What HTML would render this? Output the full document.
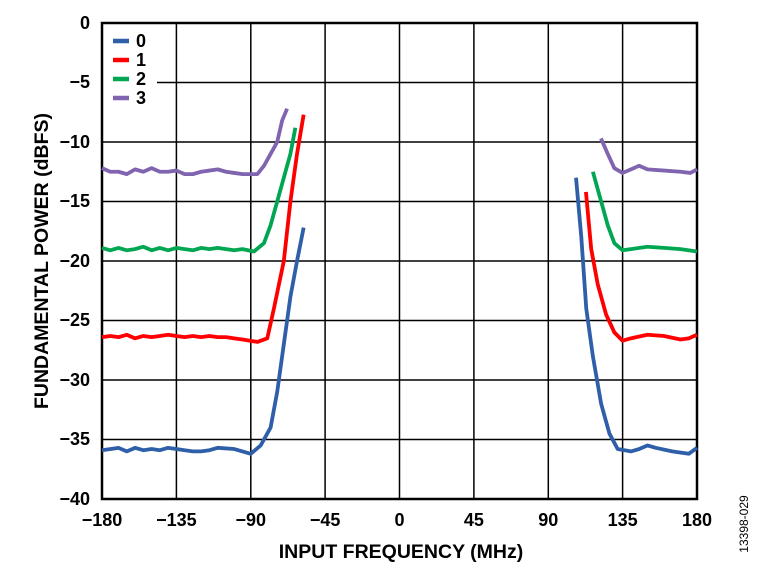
<!DOCTYPE html>
<html><head><style>
body{margin:0;background:#fff;}
svg text{font-family:"Liberation Sans",Arial,sans-serif;font-weight:bold;fill:#000;}
</style></head><body>
<svg width="762" height="568" viewBox="0 0 762 568" xmlns="http://www.w3.org/2000/svg">
<g stroke="#000" stroke-width="1.5">
<line x1="176.4" y1="23" x2="176.4" y2="499"/><line x1="250.8" y1="23" x2="250.8" y2="499"/>
<line x1="325.1" y1="23" x2="325.1" y2="499"/><line x1="399.5" y1="23" x2="399.5" y2="499"/>
<line x1="473.9" y1="23" x2="473.9" y2="499"/><line x1="548.3" y1="23" x2="548.3" y2="499"/>
<line x1="622.6" y1="23" x2="622.6" y2="499"/>
<line x1="157" y1="82.5" x2="697" y2="82.5"/><line x1="102" y1="142" x2="697" y2="142"/>
<line x1="102" y1="201.5" x2="697" y2="201.5"/><line x1="102" y1="261" x2="697" y2="261"/>
<line x1="102" y1="320.5" x2="697" y2="320.5"/><line x1="102" y1="380" x2="697" y2="380"/>
<line x1="102" y1="439.5" x2="697" y2="439.5"/>
</g>
<rect x="102" y="23" width="595" height="476" fill="none" stroke="#000" stroke-width="2.5"/>
<g transform="matrix(1.6528 0 0 -11.9 399.5 23)" fill="none" stroke-width="3.8" stroke-linejoin="round">
<polyline vector-effect="non-scaling-stroke" stroke="#8064b0" points="-180,-12.2 -175,-12.5 -170,-12.5 -165,-12.7 -160,-12.3 -155,-12.5 -150,-12.2 -145,-12.5 -140,-12.5 -135,-12.4 -130,-12.7 -125,-12.7 -120,-12.5 -115,-12.4 -110,-12.3 -105,-12.5 -100,-12.6 -95,-12.7 -90,-12.7 -86,-12.7 -82,-12 -78,-11 -74,-10 -71,-8.2 -68,-7.2"/>
<polyline vector-effect="non-scaling-stroke" stroke="#00a651" points="-180,-18.9 -175,-19.1 -170,-18.9 -165,-19.1 -160,-19 -155,-18.8 -150,-19.1 -145,-18.9 -140,-19.1 -135,-18.9 -130,-19 -125,-19.1 -120,-18.9 -115,-19 -110,-18.9 -105,-19 -100,-19.1 -95,-19 -88,-19.2 -82,-18.5 -78,-17 -74,-15 -70,-13 -66,-11 -63,-8.8"/>
<polyline vector-effect="non-scaling-stroke" stroke="#ff0000" points="-180,-26.4 -175,-26.3 -170,-26.4 -165,-26.2 -160,-26.5 -155,-26.3 -150,-26.4 -145,-26.3 -140,-26.2 -135,-26.3 -130,-26.4 -125,-26.3 -120,-26.4 -115,-26.3 -110,-26.4 -105,-26.4 -100,-26.5 -95,-26.6 -86,-26.8 -80,-26.5 -76,-24 -70,-20 -66,-15 -62,-11 -58,-7.7"/>
<polyline vector-effect="non-scaling-stroke" stroke="#2e5fa8" points="-180,-35.9 -170,-35.7 -165,-36 -160,-35.7 -155,-35.9 -150,-35.8 -145,-35.9 -140,-35.7 -135,-35.8 -130,-35.9 -125,-36 -120,-36 -115,-35.9 -110,-35.7 -100,-35.8 -90,-36.2 -84,-35.5 -78,-34 -74,-31 -70,-27 -66,-23 -62,-20 -58,-17.2"/>
<polyline vector-effect="non-scaling-stroke" stroke="#8064b0" points="121.9,-9.7 126,-11 130,-12.2 135,-12.6 140,-12.3 145,-12 150,-12.3 160,-12.4 170,-12.5 176,-12.6 180,-12.3"/>
<polyline vector-effect="non-scaling-stroke" stroke="#00a651" points="117,-12.5 122,-15 126,-17 130,-18.5 135,-19.1 140,-19 150,-18.8 160,-18.9 170,-19 180,-19.2"/>
<polyline vector-effect="non-scaling-stroke" stroke="#ff0000" points="112.8,-14.2 116,-19 120,-22 125,-24.5 130,-26 135,-26.7 140,-26.5 150,-26.2 160,-26.3 170,-26.6 175,-26.5 180,-26.2"/>
<polyline vector-effect="non-scaling-stroke" stroke="#2e5fa8" points="106.8,-13 110,-18 113,-24 117,-28 122,-32 127,-34.5 132,-35.8 140,-36 145,-35.8 150,-35.5 155,-35.7 165,-36 175,-36.2 180,-35.7"/>
</g>
<g stroke-width="4.5">
<line x1="113" y1="41" x2="129" y2="41" stroke="#2e5fa8"/>
<line x1="113" y1="60" x2="129" y2="60" stroke="#ff0000"/>
<line x1="113" y1="79" x2="129" y2="79" stroke="#00a651"/>
<line x1="113" y1="98" x2="129" y2="98" stroke="#8064b0"/>
</g>
<g font-size="18">
<text x="136" y="47">0</text><text x="136" y="66">1</text><text x="136" y="85">2</text><text x="136" y="104">3</text>
</g>
<g font-size="18" text-anchor="end">
<text x="90" y="29">0</text><text x="90" y="88">−5</text><text x="90" y="148">−10</text>
<text x="90" y="207">−15</text><text x="90" y="267">−20</text><text x="90" y="326">−25</text>
<text x="90" y="386">−30</text><text x="90" y="445">−35</text><text x="90" y="505">−40</text>
</g>
<g font-size="18" text-anchor="middle">
<text x="102" y="526">−180</text><text x="176.4" y="526">−135</text><text x="250.8" y="526">−90</text>
<text x="325.1" y="526">−45</text><text x="399.5" y="526">0</text><text x="473.9" y="526">45</text>
<text x="548.3" y="526">90</text><text x="622.6" y="526">135</text><text x="697" y="526">180</text>
</g>
<text x="401" y="558" font-size="19.5" text-anchor="middle">INPUT FREQUENCY (MHz)</text>
<text transform="translate(48,261) rotate(-90)" font-size="19.5" text-anchor="middle">FUNDAMENTAL POWER (dBFS)</text>
<text transform="translate(748,524) rotate(-90)" font-size="12" text-anchor="middle" style="font-weight:normal">13398-029</text>
</svg>
</body></html>
